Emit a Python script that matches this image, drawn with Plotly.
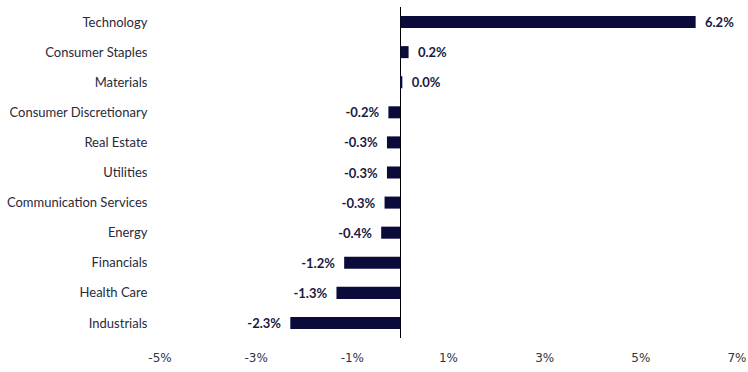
import plotly.graph_objects as go

categories = ["Technology", "Consumer Staples", "Materials", "Consumer Discretionary",
              "Real Estate", "Utilities", "Communication Services", "Energy",
              "Financials", "Health Care", "Industrials"]
values = [6.14, 0.17, 0.04, -0.25, -0.28, -0.28, -0.33, -0.40, -1.17, -1.33, -2.29]
value_labels = ["6.2%", "0.2%", "0.0%", "-0.2%", "-0.3%", "-0.3%", "-0.3%", "-0.4%",
                "-1.2%", "-1.3%", "-2.3%"]
tick_vals = [-5, -3, -1, 1, 3, 5, 7]
tick_text = ["-5%", "-3%", "-1%", "1%", "3%", "5%", "7%"]

navy = "#0b0b3b"
pad = "\u00a0\u00a0"
texts = [(pad + t) if v >= 0 else (t + pad) for t, v in zip(value_labels, values)]

fig = go.Figure(go.Bar(
    x=values, y=categories, orientation="h",
    marker=dict(color=navy, line=dict(width=0)),
    width=0.4,
    text=texts, textposition="outside", constraintext="none",
    textfont=dict(family="Lato", size=13, color="#1a1a40", weight="bold"),
    cliponaxis=False,
))

fig.update_layout(
    width=748, height=372,
    margin=dict(l=160, r=11, t=7, b=34, autoexpand=False),
    paper_bgcolor="white", plot_bgcolor="white",
    showlegend=False,
    xaxis=dict(range=[-5, 7], tickvals=tick_vals, ticktext=tick_text,
               showgrid=False, zeroline=True, zerolinecolor="#000000", zerolinewidth=1,
               showline=False, ticks="", ticklabelstandoff=11, automargin=False,
               tickfont=dict(family="DejaVu Sans", size=12, color="#333333")),
    yaxis=dict(autorange="reversed", showgrid=False, zeroline=False, showline=False,
               ticks="outside", ticklen=9, tickcolor="rgba(0,0,0,0)", automargin=False,
               tickfont=dict(family="Lato", size=13, color="#2a2a3a")),
)

fig.write_html("out.html")
